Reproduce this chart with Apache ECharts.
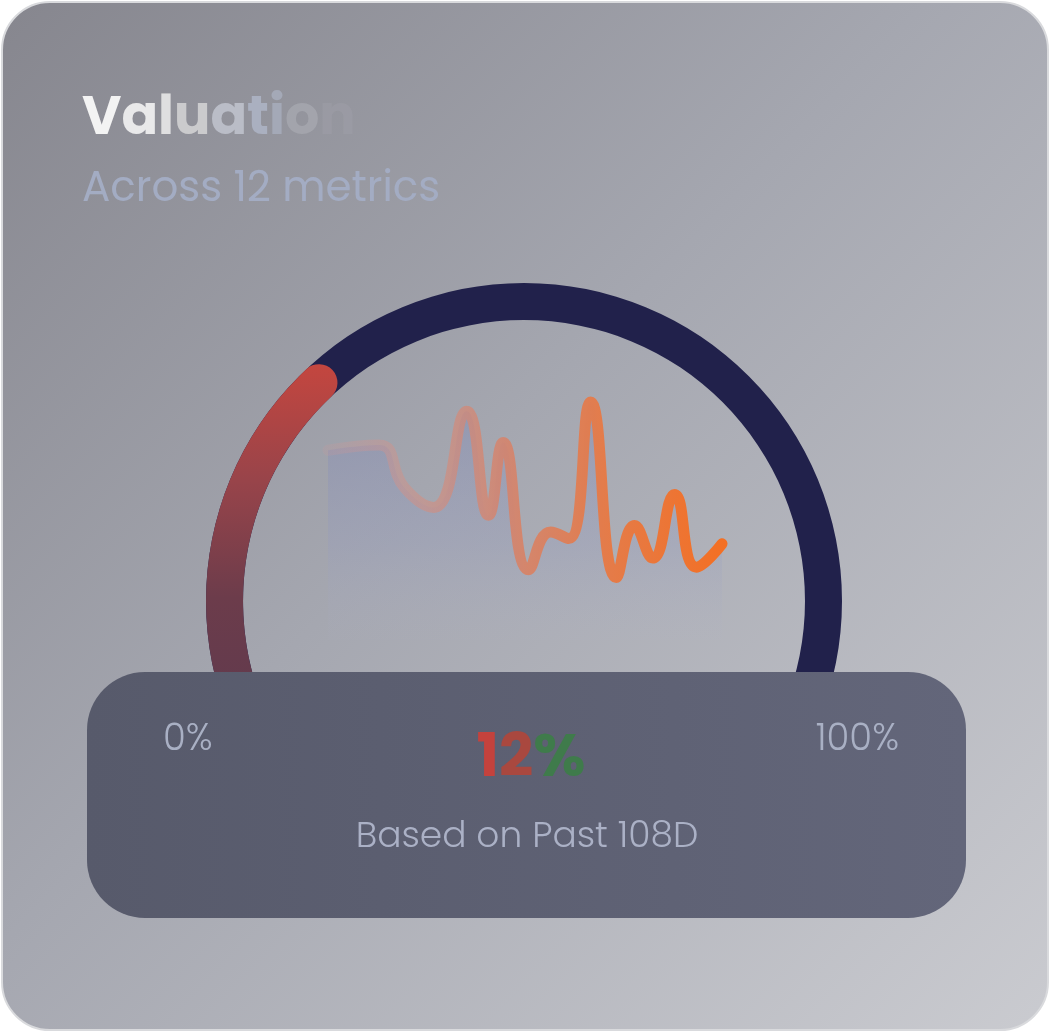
<!DOCTYPE html>
<html>
<head>
    <meta charset="utf-8">
    <title>Valuation</title>
    <style type="text/css">
        * {
            margin: 0;
            padding: 0;
        }

        body {
            background: #ffffff;
        }

        #chart {
            width: 1050px;
            height: 1032px;
        }
    </style>
</head>
<body>

<div id="chart"></div>

<script src="https://cdn.jsdelivr.net/npm/echarts@6/dist/echarts.min.js"></script>
<script type="text/javascript">

    // 数据
    let titleText = 'Valuation';
    let subTitleText = 'Across 12 metrics';
    let scoreLabel = '12%';
    let rangeLabels = ['0%', '100%'];
    let footText = 'Based on Past 108D';

    let gaugeValue = [34];                 // 进度环 (按图估)
    let trendDays = [0, 14, 21, 29, 38, 44, 48, 55, 61, 66, 72, 79, 84, 89, 95, 101, 108];
    let trendValues = [73, 75, 58.5, 51, 88, 48, 76, 27, 41.5, 39, 91.5, 24, 44, 31.5, 56, 28, 37];

    let fontName = 'Poppins, Inter, sans-serif';
    let gaugeCenter = [524, 601];

    let trendData = trendDays.map(function (d, i) {
        return [d, trendValues[i]];
    });

    //  文字渐变: canvas 文字不支持渐变填充, 逐字上色
    let titleColors = ['#f3f3f3', '#e9e9ea', '#dfdfe0', '#cbcbcd', '#babdc7', '#aab0c0', '#a4a9b7',
        'rgba(175,176,184,0.55)', 'rgba(165,166,174,0.3)'];
    let scoreColors = ['#c4423d', '#a9483f', '#3f7b4b'];

    function richText(text, colors, font) {
        let rich = {};
        let str = '';
        text.split('').forEach(function (ch, i) {
            rich['c' + i] = {font: font, fill: colors[i]};
            str += '{c' + i + '|' + ch + '}';
        });
        return {text: str, rich: rich};
    }

    let titleRich = richText(titleText, titleColors, 'bold 54px ' + fontName);
    let scoreRich = richText(scoreLabel, scoreColors, 'bold 60px ' + fontName);

    let myChart = echarts.init(document.getElementById('chart'));

    let option = {
        animation: false,
        grid: {
            left: 328,
            right: 328,
            top: 380,
            bottom: 392
        },
        xAxis: {
            type: 'value',
            min: 0,
            max: 108,
            show: false
        },
        yAxis: {
            type: 'value',
            min: 0,
            max: 100,
            show: false
        },
        graphic: [
            // 卡片背景
            {
                type: 'rect',
                z: 0,
                shape: {x: 2, y: 2, width: 1046, height: 1028, r: 48},
                style: {
                    fill: new echarts.graphic.LinearGradient(0, 0, 1, 1, [
                        {offset: 0, color: '#86868e'},
                        {offset: 0.45, color: '#a5a7b0'},
                        {offset: 1, color: '#cacbd0'}
                    ]),
                    stroke: '#d9dadd',
                    lineWidth: 2
                }
            },
            {
                type: 'text',
                z: 5,
                left: 82,
                top: 93,
                style: {
                    text: titleRich.text,
                    rich: titleRich.rich,
                    font: 'bold 54px ' + fontName
                }
            },
            {
                type: 'text',
                z: 5,
                left: 82,
                top: 169,
                style: {
                    text: subTitleText,
                    font: '42px ' + fontName,
                    fill: '#a3acc3'
                }
            },
            // 底部面板
            {
                type: 'rect',
                z: 100,
                shape: {x: 87, y: 672, width: 879, height: 246, r: 58},
                style: {
                    fill: new echarts.graphic.LinearGradient(0, 0, 1, 0, [
                        {offset: 0, color: '#575a6b'},
                        {offset: 1, color: '#63667a'}
                    ])
                }
            },
            {
                type: 'text',
                z: 101,
                left: 163,
                top: 722,
                style: {
                    text: rangeLabels[0],
                    font: '300 37px ' + fontName,
                    fill: '#a9b0c4'
                }
            },
            {
                type: 'text',
                z: 101,
                right: 151,
                top: 722,
                style: {
                    text: rangeLabels[1],
                    font: '300 37px ' + fontName,
                    fill: '#a9b0c4'
                }
            },
            {
                type: 'text',
                z: 101,
                x: 531,
                y: 761,
                style: {
                    text: scoreRich.text,
                    rich: scoreRich.rich,
                    font: 'bold 60px ' + fontName,
                    textAlign: 'center',
                    textVerticalAlign: 'middle'
                }
            },
            {
                type: 'text',
                z: 101,
                x: 527,
                y: 838,
                style: {
                    text: footText,
                    font: '300 36px ' + fontName,
                    textAlign: 'center',
                    textVerticalAlign: 'middle',
                    fill: '#abb1c6'
                }
            }
        ],
        series: [
            {
                name: 'gauge',
                type: 'gauge',
                center: gaugeCenter,
                radius: 318,
                startAngle: 225,
                endAngle: -45,
                min: 0,
                max: 100,
                z: 2,
                axisLine: {
                    lineStyle: {
                        width: 37,
                        color: [[1, '#21214b']]
                    }
                },
                progress: {
                    show: true,
                    width: 37,
                    roundCap: true,
                    itemStyle: {
                        color: new echarts.graphic.LinearGradient(0, 0, 0, 1, [
                            {offset: 0, color: '#c4463f'},
                            {offset: 0.25, color: '#98444a'},
                            {offset: 0.5, color: '#6c3c4b'},
                            {offset: 1, color: '#553850'}
                        ])
                    }
                },
                pointer: {show: false},
                anchor: {show: false},
                axisTick: {show: false},
                splitLine: {show: false},
                axisLabel: {show: false},
                title: {show: false},
                detail: {show: false},
                data: [{value: gaugeValue[0]}]
            },
            {
                name: 'trend',
                type: 'line',
                smooth: true,
                symbol: 'none',
                z: 3,
                data: trendData,
                lineStyle: {
                    width: 11,
                    cap: 'round',
                    color: new echarts.graphic.LinearGradient(0, 0, 1, 0, [
                        {offset: 0, color: 'rgba(214,150,150,0.15)'},
                        {offset: 0.2, color: 'rgba(210,145,135,0.5)'},
                        {offset: 0.45, color: 'rgba(215,130,105,0.85)'},
                        {offset: 0.7, color: 'rgba(230,122,70,0.97)'},
                        {offset: 1, color: '#f46f22'}
                    ])
                },
                areaStyle: {
                    color: new echarts.graphic.LinearGradient(0, 0, 0, 1, [
                        {offset: 0, color: 'rgba(125,134,180,0.62)'},
                        {offset: 0.6, color: 'rgba(148,155,192,0.38)'},
                        {offset: 1, color: 'rgba(175,178,200,0.06)'}
                    ])
                }
            }
        ]
    };

    myChart.setOption(option);
</script>
</body>
</html>
